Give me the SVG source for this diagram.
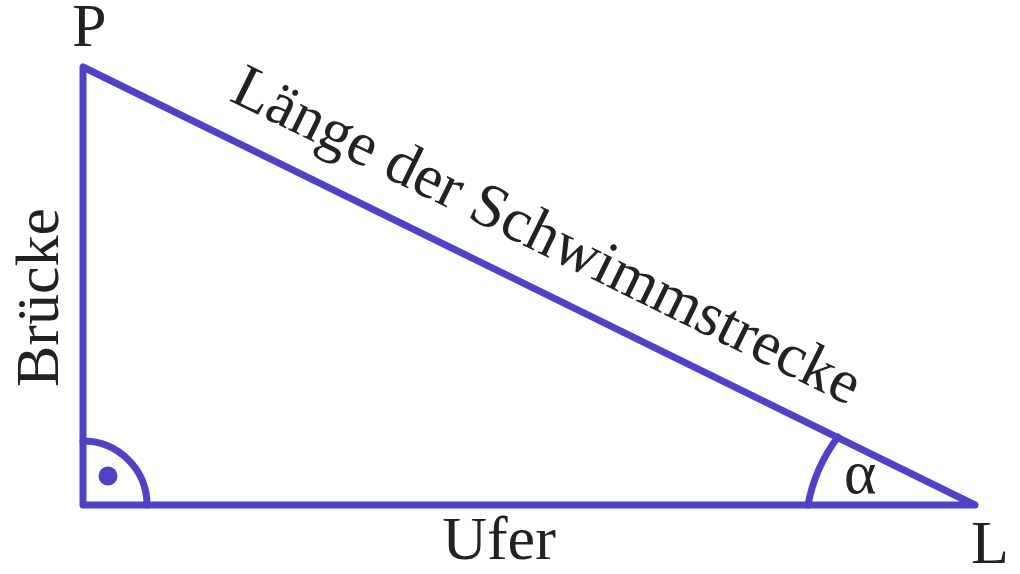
<svg xmlns="http://www.w3.org/2000/svg" width="1020" height="574" viewBox="0 0 1020 574">
<style>
.ln{fill:none;stroke:#5141c8;stroke-width:7;stroke-linecap:round;stroke-linejoin:round}
.t{font-family:"Liberation Serif","Times New Roman",serif;font-size:62px;fill:#222}
</style>
<rect width="1020" height="574" fill="#fff"/>
<g id="connectors">
<path id="triangle" class="ln" d="M83,67 L83,505 L975,505 Z"/>
<path id="right-angle" class="ln" d="M83,441 A64,64 0 0 1 147,505"/>
<path id="alpha-arc" class="ln" d="M808,505 A160,160 0 0 1 838,437"/>
</g>
<circle id="right-dot" cx="108" cy="476" r="9.5" fill="#5141c8"/>
<g id="P"><text class="t" x="72" y="46" font-size="60">P</text></g>
<g id="L"><text class="t" x="971" y="563">L</text></g>
<g id="alpha"><text class="t" x="844" y="493">α</text></g>
<g id="ufer"><text class="t" x="499" y="559" text-anchor="middle">Ufer</text></g>
<g id="bruecke"><text class="t" transform="translate(58,387) rotate(-90)">Brücke</text></g>
<g id="hypotenuse"><text class="t" font-size="63" transform="translate(228,100) rotate(26.2)">Länge der Schwimmstrecke</text></g>
</svg>
